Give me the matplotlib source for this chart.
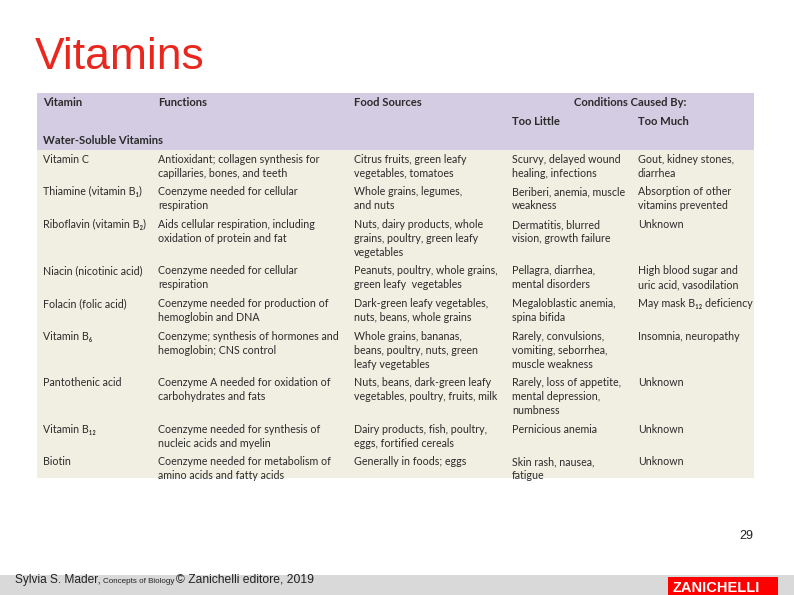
import matplotlib
matplotlib.use("Agg")
import matplotlib.pyplot as plt
from matplotlib.patches import Rectangle

plt.rcParams["font.family"] = ["Lato", "DejaVu Sans"]

# table content
vitamins = [
    "Vitamin C",
    "Thiamine (vitamin B\u2081)",
    "Riboflavin (vitamin B\u2082)",
    "Niacin (nicotinic acid)",
    "Folacin (folic acid)",
    "Vitamin B\u2086",
    "Pantothenic acid",
    "Vitamin B\u2081\u2082",
    "Biotin",
]
functions = [
    "Antioxidant; collagen synthesis for\ncapillaries, bones, and teeth",
    "Coenzyme needed for cellular\nrespiration",
    "Aids cellular respiration, including\noxidation of protein and fat",
    "Coenzyme needed for cellular\nrespiration",
    "Coenzyme needed for production of\nhemoglobin and DNA",
    "Coenzyme; synthesis of hormones and\nhemoglobin; CNS control",
    "Coenzyme A needed for oxidation of\ncarbohydrates and fats",
    "Coenzyme needed for synthesis of\nnucleic acids and myelin",
    "Coenzyme needed for metabolism of\namino acids and fatty acids",
]
food_sources = [
    "Citrus fruits, green leafy\nvegetables, tomatoes",
    "Whole grains, legumes,\nand nuts",
    "Nuts, dairy products, whole\ngrains, poultry, green leafy\nvegetables",
    "Peanuts, poultry, whole grains,\ngreen leafy  vegetables",
    "Dark-green leafy vegetables,\nnuts, beans, whole grains",
    "Whole grains, bananas,\nbeans, poultry, nuts, green\nleafy vegetables",
    "Nuts, beans, dark-green leafy\nvegetables, poultry, fruits, milk",
    "Dairy products, fish, poultry,\neggs, fortified cereals",
    "Generally in foods; eggs",
]
too_little = [
    "Scurvy, delayed wound\nhealing, infections",
    "Beriberi, anemia, muscle\nweakness",
    "Dermatitis, blurred\nvision, growth failure",
    "Pellagra, diarrhea,\nmental disorders",
    "Megaloblastic anemia,\nspina bifida",
    "Rarely, convulsions,\nvomiting, seborrhea,\nmuscle weakness",
    "Rarely, loss of appetite,\nmental depression,\nnumbness",
    "Pernicious anemia",
    "Skin rash, nausea,\nfatigue",
]
too_much = [
    "Gout, kidney stones,\ndiarrhea",
    "Absorption of other\nvitamins prevented",
    "Unknown",
    "High blood sugar and\nuric acid, vasodilation",
    "May mask B\u2081\u2082 deficiency",
    "Insomnia, neuropathy",
    "Unknown",
    "Unknown",
    "Unknown",
]

TEXT = "#2b2b2b"
HEAD_BG = "#d4cce3"
BODY_BG = "#f1eee2"
RED = "#e8281e"
FS = 7.7
HFS = 8.1
LINE = 14.0
GAP = 4.6
BASE = 3.6   # baseline offset below the line centre, px

col_x = [43, 158, 354, 512, 638]

fig = plt.figure(figsize=(7.94, 5.95), dpi=100)
ax = fig.add_axes([0, 0, 1, 1])
ax.set_xlim(0, 794)
ax.set_ylim(595, 0)
ax.axis("off")

# title
ax.text(35, 69, "Vitamins", color=RED, fontsize=32, family="Liberation Sans",
        ha="left", va="baseline")

# table backgrounds
ax.add_patch(Rectangle((37, 93), 717, 57, color=HEAD_BG, lw=0))
ax.add_patch(Rectangle((37, 150), 717, 328, color=BODY_BG, lw=0))

hk = dict(fontsize=HFS, fontweight="bold", color=TEXT, va="baseline", ha="left")
ax.text(col_x[0], 102 + BASE, "Vitamin", **hk)
ax.text(col_x[1], 102 + BASE, "Functions", **hk)
ax.text(col_x[2], 102 + BASE, "Food Sources", **hk)
ax.text(574, 102 + BASE, "Conditions Caused By:", **hk)
ax.text(col_x[3], 121 + BASE, "Too Little", **hk)
ax.text(col_x[4], 121 + BASE, "Too Much", **hk)
ax.text(col_x[0], 140 + BASE, "Water-Soluble Vitamins", **hk)

y = 159
for row in zip(vitamins, functions, food_sources, too_little, too_much):
    nlines = max(cell.count("\n") + 1 for cell in row)
    for x, cell in zip(col_x, row):
        for i, line in enumerate(cell.split("\n")):
            ax.text(x, round(y + i * LINE + BASE), line, fontsize=FS, color=TEXT,
                    ha="left", va="baseline")
    y += nlines * LINE + GAP

# page number
ax.text(753, 539, "29", fontsize=9, family="Liberation Sans", color="#222222",
        ha="right", va="baseline")

# footer bar
ax.add_patch(Rectangle((0, 575), 794, 20, color="#d9d9d9", lw=0))
ax.add_patch(Rectangle((668, 577), 110, 18, color="#ff0000", lw=0))
ax.text(673, 592, "ZANICHELLI", fontsize=10.5, fontweight="bold", color="white",
        family="Liberation Sans", ha="left", va="baseline")

ax.text(15, 583, "Sylvia S. Mader,", fontsize=8.6, family="Liberation Sans",
        color="#222222", ha="left", va="baseline")
ax.text(103, 583, "Concepts of Biology", fontsize=5.8, family="Liberation Sans",
        color="#222222", ha="left", va="baseline")
ax.text(176, 583, "\u00a9 Zanichelli editore, 2019", fontsize=8.7,
        family="Liberation Sans", color="#222222", ha="left", va="baseline")

fig.savefig("out.png", dpi=100)
